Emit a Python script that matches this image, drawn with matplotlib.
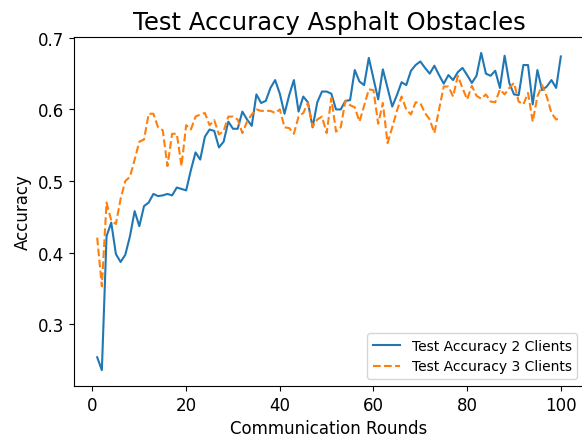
import matplotlib
matplotlib.use("Agg")
import matplotlib.pyplot as plt

# ---------------------------------------------------------------------------
# Dane
# ---------------------------------------------------------------------------
rounds = list(range(1, 101))

acc_2_clients = [
    0.254, 0.236, 0.423, 0.442, 0.398, 0.387, 0.397, 0.423, 0.458, 0.437,
    0.465, 0.470, 0.482, 0.479, 0.480, 0.482, 0.480, 0.491, 0.489, 0.487,
    0.515, 0.540, 0.530, 0.562, 0.572, 0.570, 0.547, 0.555, 0.583, 0.573,
    0.573, 0.597, 0.586, 0.577, 0.621, 0.609, 0.612, 0.630, 0.641, 0.622,
    0.594, 0.620, 0.641, 0.597, 0.618, 0.610, 0.575, 0.610, 0.625, 0.625,
    0.622, 0.600, 0.600, 0.612, 0.613, 0.655, 0.639, 0.634, 0.672, 0.643,
    0.614, 0.656, 0.630, 0.604, 0.620, 0.638, 0.634, 0.654, 0.662, 0.667,
    0.658, 0.650, 0.661, 0.648, 0.636, 0.648, 0.641, 0.652, 0.658, 0.648,
    0.637, 0.647, 0.679, 0.650, 0.647, 0.654, 0.630, 0.675, 0.637, 0.621,
    0.620, 0.662, 0.662, 0.607, 0.655, 0.627, 0.632, 0.641, 0.630, 0.674,
]

acc_3_clients = [
    0.421, 0.353, 0.470, 0.445, 0.440, 0.475, 0.500, 0.506, 0.530, 0.555,
    0.558, 0.594, 0.594, 0.575, 0.571, 0.521, 0.566, 0.566, 0.521, 0.578,
    0.572, 0.590, 0.593, 0.595, 0.578, 0.585, 0.565, 0.570, 0.590, 0.590,
    0.586, 0.567, 0.583, 0.593, 0.600, 0.598, 0.598, 0.598, 0.595, 0.600,
    0.575, 0.574, 0.566, 0.590, 0.595, 0.609, 0.576, 0.586, 0.590, 0.567,
    0.616, 0.569, 0.575, 0.612, 0.606, 0.603, 0.583, 0.605, 0.628, 0.627,
    0.580, 0.609, 0.553, 0.575, 0.598, 0.618, 0.600, 0.593, 0.610, 0.609,
    0.595, 0.586, 0.567, 0.600, 0.632, 0.632, 0.618, 0.647, 0.630, 0.614,
    0.633, 0.619, 0.615, 0.621, 0.611, 0.610, 0.628, 0.621, 0.630, 0.637,
    0.611, 0.607, 0.623, 0.583, 0.618, 0.634, 0.618, 0.595, 0.586, 0.588,
]

# ---------------------------------------------------------------------------
# Wykres
# ---------------------------------------------------------------------------
fig = plt.figure(figsize=(5.82, 4.39), dpi=100)
# prawa krawędź osi wychodzi poza obraz (jak w oryginale, przycięty)
ax = fig.add_axes([74 / 582, 1 - 387 / 439, 510 / 582, 349 / 439])

ax.plot(rounds, acc_2_clients, color="#1f77b4", linewidth=1.5,
        label="Test Accuracy 2 Clients")
ax.plot(rounds, acc_3_clients, color="#ff7f0e", linewidth=1.5, linestyle="--",
        label="Test Accuracy 3 Clients")

ax.set_title("Test Accuracy Asphalt Obstacles", fontsize=17.5)
ax.set_xlabel("Communication Rounds", fontsize=12)
ax.set_ylabel("Accuracy", fontsize=12)
ax.tick_params(labelsize=12)
ax.set_xticks([0, 20, 40, 60, 80, 100])
ax.set_yticks([0.3, 0.4, 0.5, 0.6, 0.7])
ax.legend(loc="lower right", fontsize=10)

fig.savefig("out.png", dpi=100)
